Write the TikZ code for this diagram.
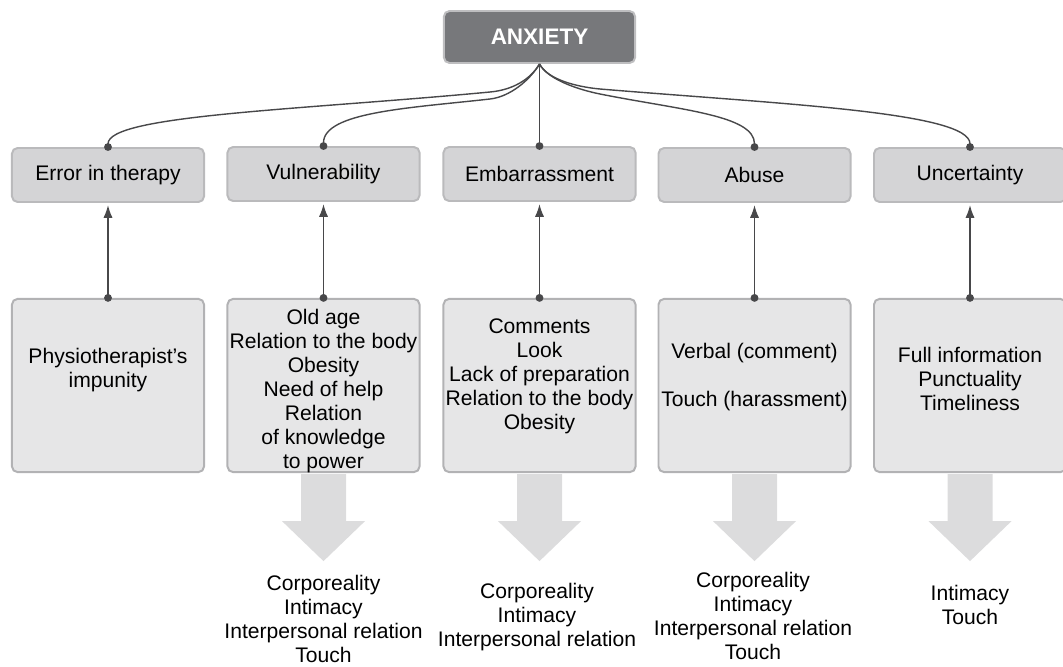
\documentclass[tikz,border=0pt]{standalone}
\usepackage{fontspec}
\setmainfont{Liberation Sans}
\usetikzlibrary{arrows.meta}
\definecolor{anxgray}{RGB}{119,120,123}
\definecolor{anxline}{RGB}{190,190,192}
\definecolor{catgray}{RGB}{212,212,214}
\definecolor{catline}{RGB}{186,186,188}
\definecolor{lowgray}{RGB}{230,230,231}
\definecolor{lowline}{RGB}{178,178,180}
\definecolor{linkgray}{RGB}{72,72,74}
\definecolor{arrowgray}{RGB}{220,220,221}

\begin{document}
\begin{tikzpicture}[x=0.025cm,y=-0.025cm,
  every node/.style={font=\fontsize{15}{17.07}\selectfont},
  head/.style={draw=anxline, line width=1.4pt, fill=anxgray, rounded corners=4pt,
    minimum width=4.78cm, minimum height=1.3cm, text=white,
    font=\fontsize{16}{19}\selectfont\bfseries},
  cat/.style={draw=catline, line width=1.4pt, fill=catgray, rounded corners=4pt,
    minimum width=4.8cm, minimum height=1.35cm},
  low/.style={draw=lowline, line width=1.4pt, fill=lowgray, rounded corners=4pt,
    minimum width=4.8cm, minimum height=4.33cm},
  txt/.style={align=center},
  link/.style={draw=linkgray, line width=1pt, -{Circle[length=5.5pt]}, shorten >=-2.75pt},
  up/.style={draw=linkgray, line width=1pt, {Circle[length=5.5pt]}-{Latex[length=9pt,width=6.5pt]},
    shorten <=-2.75pt, shorten >=1.5pt},
  big/.style={fill=arrowgray}]
\useasboundingbox (0,0) rectangle (1063,666);

% top
\node[head](anx) at (539.5,37){ANXIETY};

% categories
\node[cat](cat1) at (108,175){Error in therapy};
\node[cat](cat2) at (323.5,174){Vulnerability};
\node[cat](cat3) at (539.5,174){Embarrassment};
\node[cat](cat4) at (754.5,175){Abuse};
\node[cat](cat5) at (970,175){Uncertainty};

% lower boxes
\node[low](low1) at (108,385.5){};
\node[low](low2) at (323.5,385.5){};
\node[low](low3) at (539.5,385.5){};
\node[low](low4) at (754.5,385.5){};
\node[low](low5) at (970,385.5){};

\node[txt](t1) at (108,370){Physiotherapist’s\\impunity};
\node[txt](t2) at (323.5,391){Old age\\Relation to the body\\Obesity\\Need of help\\Relation\\of knowledge\\to power};
\node[txt](t3) at (539.5,376){Comments\\Look\\Lack of preparation\\Relation to the body\\Obesity};
\node[txt](t4) at (754.5,377){Verbal (comment)\\[17pt]Touch (harassment)};
\node[txt](t5) at (970,379){Full information\\Punctuality\\Timeliness};

% curved links from the top box
\draw[link] (anx.south) .. controls (530,80) and (512,90) .. (490,92)
  .. controls (300,110) and (108,115) .. (cat1.north);
\draw[link] (anx.south) .. controls (530,80) and (510,96.8) .. (490,99)
  .. controls (410,108) and (323.5,112) .. (cat2.north);
\draw[link] (anx.south) -- (cat3.north);
\draw[link] (anx.south) .. controls (548,80) and (580,90) .. (600,94)
  .. controls (680,110) and (754.5,115) .. (cat4.north);
\draw[link] (anx.south) .. controls (548,80) and (578,87) .. (600,89)
  .. controls (780,104) and (970,112) .. (cat5.north);

% arrows up
\draw[up] (low1.north) -- (cat1.south);
\draw[up] (low2.north) -- (cat2.south);
\draw[up] (low3.north) -- (cat3.south);
\draw[up] (low4.north) -- (cat4.south);
\draw[up] (low5.north) -- (cat5.south);

% big arrows down
\fill[big, shift={(low2.south)}] (-22.5,1) -- (-22.5,48) -- (-41.5,48) -- (0,88)
  -- (41.5,48) -- (22.5,48) -- (22.5,1) -- cycle;
\fill[big, shift={(low3.south)}] (-22.5,1) -- (-22.5,48) -- (-41.5,48) -- (0,88)
  -- (41.5,48) -- (22.5,48) -- (22.5,1) -- cycle;
\fill[big, shift={(low4.south)}] (-22.5,1) -- (-22.5,48) -- (-41.5,48) -- (0,88)
  -- (41.5,48) -- (22.5,48) -- (22.5,1) -- cycle;
\fill[big, shift={(low5.south)}] (-22.5,1) -- (-22.5,48) -- (-41.5,48) -- (0,88)
  -- (41.5,48) -- (22.5,48) -- (22.5,1) -- cycle;

% results
\node[txt](r2) at (323.5,619){Corporeality\\Intimacy\\Interpersonal relation\\Touch};
\node[txt](r3) at (537,617){Corporeality\\Intimacy\\Interpersonal relation};
\node[txt](r4) at (753,616){Corporeality\\Intimacy\\Interpersonal relation\\Touch};
\node[txt](r5) at (970,605){Intimacy\\Touch};
\end{tikzpicture}
\end{document}
